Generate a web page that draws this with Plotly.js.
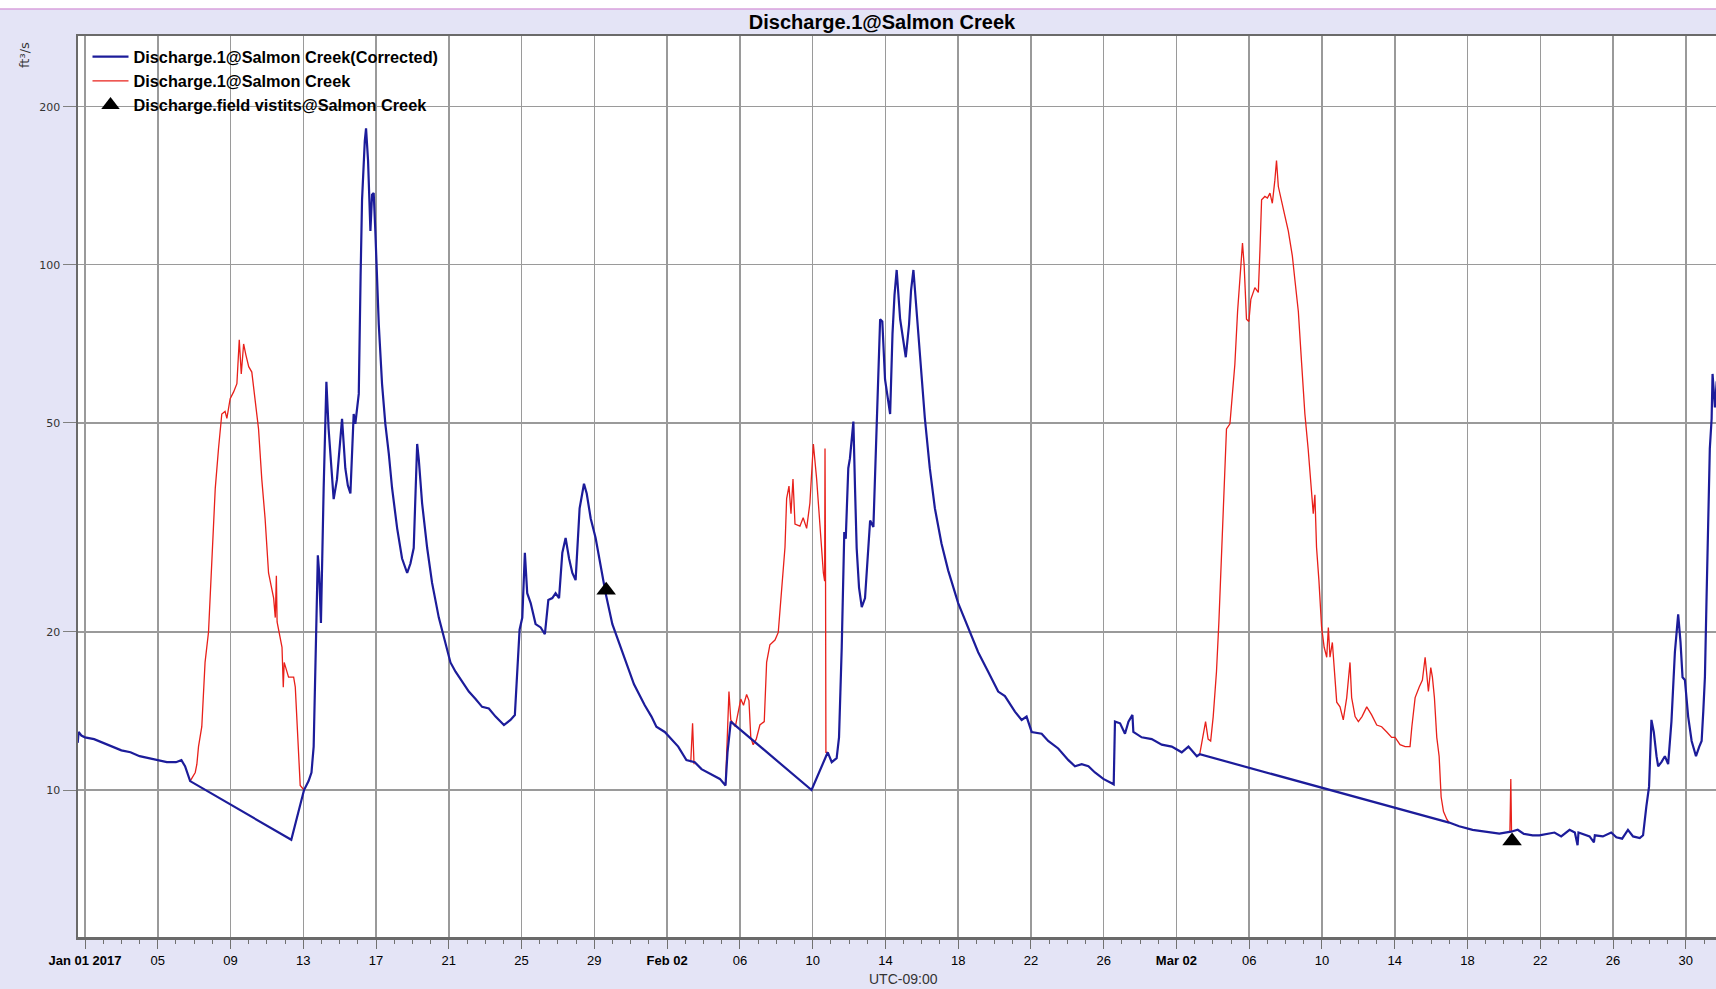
<!DOCTYPE html>
<html>
<head>
<meta charset="utf-8">
<script src="https://cdn.plot.ly/plotly-3.0.1.min.js"></script>
<style>
  html, body { margin: 0; padding: 0; background: #e4e4f6; }
  #chart { width: 1716px; height: 989px; }
</style>
</head>
<body>
<div id="chart"></div>
<script>
// ---- Data (time in days after 2017-01-01 00:00, UTC-09:00 local) ----
const baseDate = '2017-01-01';

const correctedDays = [
  -0.40, -0.35, -0.2, 0.0, 0.5, 1.0, 1.5, 2.0, 2.5, 3.0, 3.5, 4.0, 4.5, 5.0, 5.3, 5.5, 5.7, 5.78,
  11.34, 12.04, 12.29, 12.45, 12.57, 12.7, 12.8, 12.87, 12.97, 13.12, 13.21, 13.27, 13.39, 13.54,
  13.67, 13.85, 14.0, 14.13, 14.31, 14.45, 14.59, 14.77, 14.86, 15.05, 15.15, 15.23, 15.38, 15.45,
  15.56, 15.69, 15.78, 15.87, 15.96, 16.06, 16.15, 16.33, 16.51, 16.7, 16.88, 17.16, 17.43, 17.71,
  17.89, 18.07, 18.17, 18.26, 18.35, 18.53, 18.81, 19.08, 19.45, 19.82, 20.09, 20.37, 20.73, 21.1,
  21.47, 21.83, 22.2, 22.57, 23.03, 23.39, 23.63, 23.76, 23.89, 24.04, 24.18, 24.31, 24.5, 24.77,
  25.05, 25.28, 25.47, 25.69, 25.87, 26.06, 26.24, 26.42, 26.61, 26.79, 26.97, 27.19, 27.43, 27.58,
  27.8, 28.07, 28.35, 28.62, 28.99, 29.36, 29.72, 30.18, 30.77, 31.14, 31.41, 31.87, 32.24, 32.61,
  33.06, 33.52, 33.89, 34.44, 34.9, 35.21, 35.32, 35.5,
  39.94, 40.83, 41.05, 41.32, 41.45, 41.6, 41.74, 41.82, 41.96, 42.05, 42.24, 42.33, 42.42, 42.55,
  42.7, 42.88, 43.01, 43.16, 43.34, 43.47, 43.58, 43.71, 43.83, 43.98, 44.26, 44.39, 44.5, 44.62,
  44.81, 44.99, 45.12, 45.3, 45.41, 45.54, 45.72, 45.85, 45.98, 46.17, 46.44, 46.72, 47.08, 47.45,
  48.0, 48.55, 49.1, 49.65, 50.2, 50.57, 51.12, 51.49, 51.76, 52.04, 52.59, 52.95, 53.5, 54.06,
  54.42, 54.79, 55.16, 55.52, 55.98, 56.44, 56.55, 56.62, 56.9, 57.17, 57.36, 57.58, 57.63, 58.09,
  58.64, 59.19, 59.74, 60.29, 60.66, 61.12, 61.28,
  74.99, 75.54, 76.28, 77.01, 77.75, 78.39, 78.76, 79.1, 79.58, 79.95, 80.4, 80.78, 81.15, 81.61,
  81.9, 82.05, 82.1, 82.71, 82.95, 83.0, 83.44, 83.9, 84.18, 84.5, 84.82, 85.1, 85.47, 85.65,
  85.83, 85.98, 86.11, 86.24, 86.39, 86.48, 86.66, 86.85, 87.03, 87.21, 87.4, 87.49, 87.58, 87.71,
  87.82, 87.95, 88.13, 88.32, 88.56, 88.74, 88.87, 88.96, 89.05, 89.14, 89.23, 89.32, 89.42, 89.47,
  89.53, 89.6, 89.7
];
const correctedValues = [
  12.3, 12.9, 12.7, 12.6, 12.5, 12.3, 12.1, 11.9, 11.8, 11.6, 11.5, 11.4, 11.3, 11.3, 11.4, 11.1, 10.6, 10.4,
  8.04, 10.0, 10.4, 10.8, 12.1, 18.7, 28, 26, 20.8, 37.6, 51.5, 59.9, 48.8, 41,
  35.8, 39, 46, 50.9, 41, 38, 36.7, 52, 49.8, 56.8, 95, 133, 172, 182,
  158, 116, 136, 137, 116, 95.7, 77, 59.3, 49.8, 43.7, 37.6, 31.5, 27.6, 25.9,
  27, 28.9, 38.4, 45.6, 42.6, 35.2, 28.9, 24.8, 21.3, 19.1, 17.5, 16.8, 16.1, 15.4,
  14.9, 14.4, 14.3, 13.8, 13.3, 13.6, 13.9, 16.8, 20.2, 21.3, 28.3, 23.7, 22.7, 20.7,
  20.4, 19.8, 23.0, 23.2, 23.7, 23.2, 28.3, 30.2, 27.6, 25.9, 25.1, 34.4, 38.3, 36.7,
  32.9, 30.2, 26.5, 23.7, 20.7, 19.1, 17.5, 15.9, 14.5, 13.8, 13.2, 12.9, 12.5, 12.1,
  11.4, 11.3, 10.96, 10.7, 10.5, 10.2, 11.8, 13.5,
  10.0, 11.8, 11.3, 11.5, 12.6, 18.7, 31.0, 30.1, 41, 42.8, 50.3, 37.6, 28.9, 24.3,
  22.3, 23.2, 27.6, 32.6, 31.7, 44.6, 62, 78.8, 78, 60.5, 52, 73.9, 87.6, 97.8,
  78.8, 72, 66.7, 77, 89.4, 97.8, 80.4, 70, 60.5, 51, 41, 34.4, 29.5, 26.2,
  22.7, 20.4, 18.3, 16.8, 15.4, 15.1, 14.1, 13.6, 13.8, 12.9, 12.8, 12.4, 12.0, 11.4,
  11.1, 11.2, 11.1, 10.8, 10.5, 10.3, 10.25, 13.5, 13.4, 12.8, 13.5, 13.9, 12.9, 12.6,
  12.5, 12.2, 12.1, 11.8, 12.1, 11.6, 11.7,
  8.67, 8.53, 8.4, 8.33, 8.26, 8.33, 8.4, 8.25, 8.2, 8.2, 8.25, 8.3, 8.16, 8.4,
  8.3, 7.85, 8.3, 8.16, 7.95, 8.2, 8.16, 8.3, 8.13, 8.08, 8.4, 8.16, 8.1, 8.2,
  9.3, 10.15, 13.6, 12.9, 11.6, 11.1, 11.3, 11.6, 11.2, 13.5, 18.3, 19.6, 21.6, 19.1,
  16.4, 16.2, 13.8, 12.4, 11.6, 12.1, 12.4, 14.1, 16.4, 23.2, 32.1, 44.7, 51, 62,
  58, 53.5, 60
];

// Raw series, shown only where it departs from the corrected one (null = break)
const rawDays = [
  5.78, 6.06, 6.15, 6.24, 6.42, 6.6, 6.79, 6.97, 7.16, 7.34, 7.52, 7.7, 7.8, 7.98, 8.17, 8.35, 8.48,
  8.59, 8.72, 8.84, 9.0, 9.17, 9.36, 9.54, 9.72, 9.9, 10.09, 10.37, 10.46, 10.52, 10.56, 10.83, 10.9,
  10.95, 11.19, 11.47, 11.56, 11.65, 11.74, 11.83, 12.04, null,
  33.3, 33.4, 33.48, null,
  35.21, 35.4, 35.5, 35.75, 36.05, 36.2, 36.37, 36.5, 36.6, 36.73, 36.9, 37.1, 37.34, 37.47, 37.65,
  37.93, 38.11, 38.29, 38.48, 38.57, 38.7, 38.81, 38.92, 39.03, 39.3, 39.48, 39.67, 39.85, 40.04,
  40.22, 40.4, 40.59, 40.66, 40.68, 40.71, 40.73, 40.83, null,
  61.28, 61.45, 61.6, 61.74, 61.88, 62.02, 62.2, 62.33, 62.48, 62.62, 62.75, 62.94, 63.06, 63.21,
  63.36, 63.49, 63.63, 63.72, 63.85, 63.98, 64.09, 64.31, 64.5, 64.59, 64.68, 64.86, 65.0, 65.14,
  65.27, 65.41, 65.5, 65.6, 65.78, 65.96, 66.15, 66.37, 66.51, 66.7, 66.88, 67.06, 67.24, 67.43,
  67.52, 67.61, 67.7, 67.83, 67.98, 68.12, 68.26, 68.35, 68.44, 68.57, 68.68, 68.81, 68.99, 69.17,
  69.36, 69.54, 69.63, 69.82, 70.0, 70.2, 70.46, 70.73, 71.01, 71.28, 71.56, 71.83, 72.02, 72.29,
  72.57, 72.84, 72.94, 73.12, 73.34, 73.52, 73.67, 73.76, 73.85, 73.98, 74.07, 74.18, 74.31, 74.44,
  74.55, 74.68, 74.86, 74.99, null,
  78.33, 78.38, 78.42
];
const rawValues = [
  10.4, 10.8, 11.2, 12.1, 13.2, 17.5, 20, 27.6, 37.5, 44.7, 52, 52.6, 51, 55.6, 57.3, 59.4, 72,
  62, 70.7, 67.5, 64, 62.5, 55.6, 48.7, 39, 32.9, 25.9, 23.2, 21.3, 25.6, 20.9, 18.7, 15.7,
  17.5, 16.4, 16.4, 15.7, 13.4, 11.3, 10.2, 10.0, null,
  11.3, 13.4, 11.2, null,
  10.2, 15.4, 13.6, 13.2, 14.9, 14.5, 15.2, 14.8, 12.6, 12.2, 12.5, 13.3, 13.5, 17.5, 18.9,
  19.3, 19.96, 23.7, 29, 35.9, 37.9, 33.6, 39.1, 32.1, 31.8, 33, 31.5, 35.2, 45.6,
  39.1, 31.5, 25.9, 25, 44.7, 25, 11.8, 11.8, null,
  11.7, 12.6, 13.5, 12.5, 12.4, 13.8, 16.8, 20.8, 29, 39.1, 48.7, 49.8, 56.8, 64.6,
  81.5, 95.7, 110, 100, 78.8, 78, 86, 90.5, 88.6, 106.7, 133, 135, 134, 137,
  131, 145, 158, 141, 133, 124, 116, 104, 93.7, 81.5, 65, 52, 44.6, 37.6,
  33.6, 36.5, 29, 25.1, 20.4, 18.7, 17.9, 20.4, 17.9, 19.1, 17.1, 14.7, 14.4, 13.6,
  15.0, 17.5, 15.0, 13.8, 13.5, 13.8, 14.4, 13.9, 13.3, 13.2, 12.9, 12.6, 12.6, 12.2,
  12.1, 12.1, 13.2, 15.0, 15.7, 16.2, 17.9, 16.4, 15.4, 17.1, 16.4, 15.0, 12.6, 11.6,
  9.7, 9.1, 8.8, 8.67, null,
  8.33, 10.5, 8.35
];

const visitDays = [28.65, 78.45];
const visitValues = [24.0, 8.0];

const tickDates = ['2017-01-01','2017-01-05','2017-01-09','2017-01-13','2017-01-17','2017-01-21',
  '2017-01-25','2017-01-29','2017-02-02','2017-02-06','2017-02-10','2017-02-14','2017-02-18',
  '2017-02-22','2017-02-26','2017-03-02','2017-03-06','2017-03-10','2017-03-14','2017-03-18',
  '2017-03-22','2017-03-26','2017-03-30'];
const tickLabels = ['Jan 01 2017','05','09','13','17','21','25','29','Feb 02','06','10','14','18',
  '22','26','Mar 02','06','10','14','18','22','26','30'];

const yTicks = [10, 20, 50, 100, 200];
const yTickLabels = ['10', '20', '50', '100', '200'];

// ---- Helpers ----
const baseMs = Date.parse(baseDate + 'T00:00:00Z');
function toDate(d) {
  if (d === null) return null;
  return new Date(baseMs + d * 86400000).toISOString().slice(0, 19).replace('T', ' ');
}
const boldTicks = tickLabels.map(t => /[A-Za-z]/.test(t) ? '<b>' + t + '</b>' : t);

const FONT = 'Liberation Sans, Arial, sans-serif';

const traces = [
  {
    name: 'Discharge.1@Salmon Creek',
    x: rawDays.map(toDate), y: rawValues,
    type: 'scatter', mode: 'lines', connectgaps: false,
    line: { color: '#e8201a', width: 1.3 },
    legendrank: 2
  },
  {
    name: 'Discharge.1@Salmon Creek(Corrected)',
    x: correctedDays.map(toDate), y: correctedValues,
    type: 'scatter', mode: 'lines',
    line: { color: '#1c1c9a', width: 2.2 },
    legendrank: 1
  },
  {
    name: 'Discharge.field vistits@Salmon Creek',
    x: visitDays.map(toDate), y: visitValues,
    type: 'scatter', mode: 'markers',
    marker: { symbol: 'triangle-up', size: 17, color: '#000000' },
    legendrank: 3
  }
];

const plotTop = 36, plotH = 901, plotL = 78, plotW = 1638;
const layout = {
  width: 1716, height: 989,
  margin: { l: plotL, r: 0, t: plotTop, b: 52, pad: 0 },
  paper_bgcolor: '#e4e4f6',
  plot_bgcolor: '#ffffff',
  showlegend: true,
  hovermode: false,
  title: {
    text: 'Discharge.1@Salmon Creek',
    x: 882 / 1716, xref: 'container', xanchor: 'center',
    y: 1 - 22 / 989, yref: 'container', yanchor: 'middle',
    font: { family: FONT, size: 20, color: '#000000', weight: 'bold' }
  },
  legend: {
    x: 0.0058, y: 0.996, xanchor: 'left', yanchor: 'top',
    bgcolor: 'rgba(0,0,0,0)', borderwidth: 0,
    font: { family: FONT, size: 16.3, color: '#000000', weight: 'bold' },
    tracegroupgap: 0, itemwidth: 36
  },
  xaxis: {
    type: 'date',
    range: ['2016-12-31 14:46', '2017-03-31 15:50'],
    tickmode: 'array', tickvals: tickDates, ticktext: boldTicks,
    ticks: 'outside', ticklen: 9, tickwidth: 1, tickcolor: '#707070',
    tickfont: { family: FONT, size: 13, color: '#000000' },
    ticklabelstandoff: 1,
    showgrid: true, gridcolor: '#9a9a9a', gridwidth: 1.5,
    showline: true, linecolor: '#6a6a6a', linewidth: 2.5, mirror: true,
    zeroline: false,
    minor: { tickmode: 'linear', tick0: '2017-01-01', dtick: 86400000,
             ticks: 'outside', ticklen: 4, tickwidth: 1, tickcolor: '#707070', showgrid: false },
    fixedrange: true
  },
  yaxis: {
    type: 'log',
    range: [Math.log10(5.25), Math.log10(272.8)],
    tickmode: 'array', tickvals: yTicks, ticktext: yTickLabels,
    ticks: 'outside', ticklen: 13, tickwidth: 1, tickcolor: '#808080',
    tickfont: { family: 'DejaVu Sans, Verdana, sans-serif', size: 11, color: '#333333' },
    showgrid: true, gridcolor: '#9a9a9a', gridwidth: 1.2,
    showline: true, linecolor: '#6a6a6a', linewidth: 2.5,
    zeroline: false, fixedrange: true
  },
  annotations: [
    {
      text: 'ft³/s', xref: 'paper', yref: 'paper',
      x: (24 - plotL) / plotW, y: 1 + (plotTop - 55) / plotH,
      xanchor: 'center', yanchor: 'middle', textangle: -90, showarrow: false,
      font: { family: 'DejaVu Sans, sans-serif', size: 13, color: '#333333' }
    },
    {
      text: 'UTC-09:00', xref: 'paper', yref: 'paper',
      x: (903 - plotL) / plotW, y: 1 + (plotTop - 979) / plotH,
      xanchor: 'center', yanchor: 'middle', showarrow: false,
      font: { family: FONT, size: 14, color: '#333333' }
    }
  ],
  shapes: [
    {
      type: 'rect', xref: 'paper', yref: 'paper', layer: 'below',
      x0: -plotL / plotW, x1: 1, y0: 1 + (plotTop - 9) / plotH, y1: 1 + plotTop / plotH,
      fillcolor: '#ffffff', line: { width: 0 }
    },
    {
      type: 'line', xref: 'paper', yref: 'paper',
      x0: -plotL / plotW, x1: 1, y0: 1 + (plotTop - 9) / plotH, y1: 1 + (plotTop - 9) / plotH,
      line: { color: '#d8a0dc', width: 1.5 }
    }
  ]
};

Plotly.newPlot('chart', traces, layout, { displayModeBar: false, staticPlot: true });
</script>
</body>
</html>
